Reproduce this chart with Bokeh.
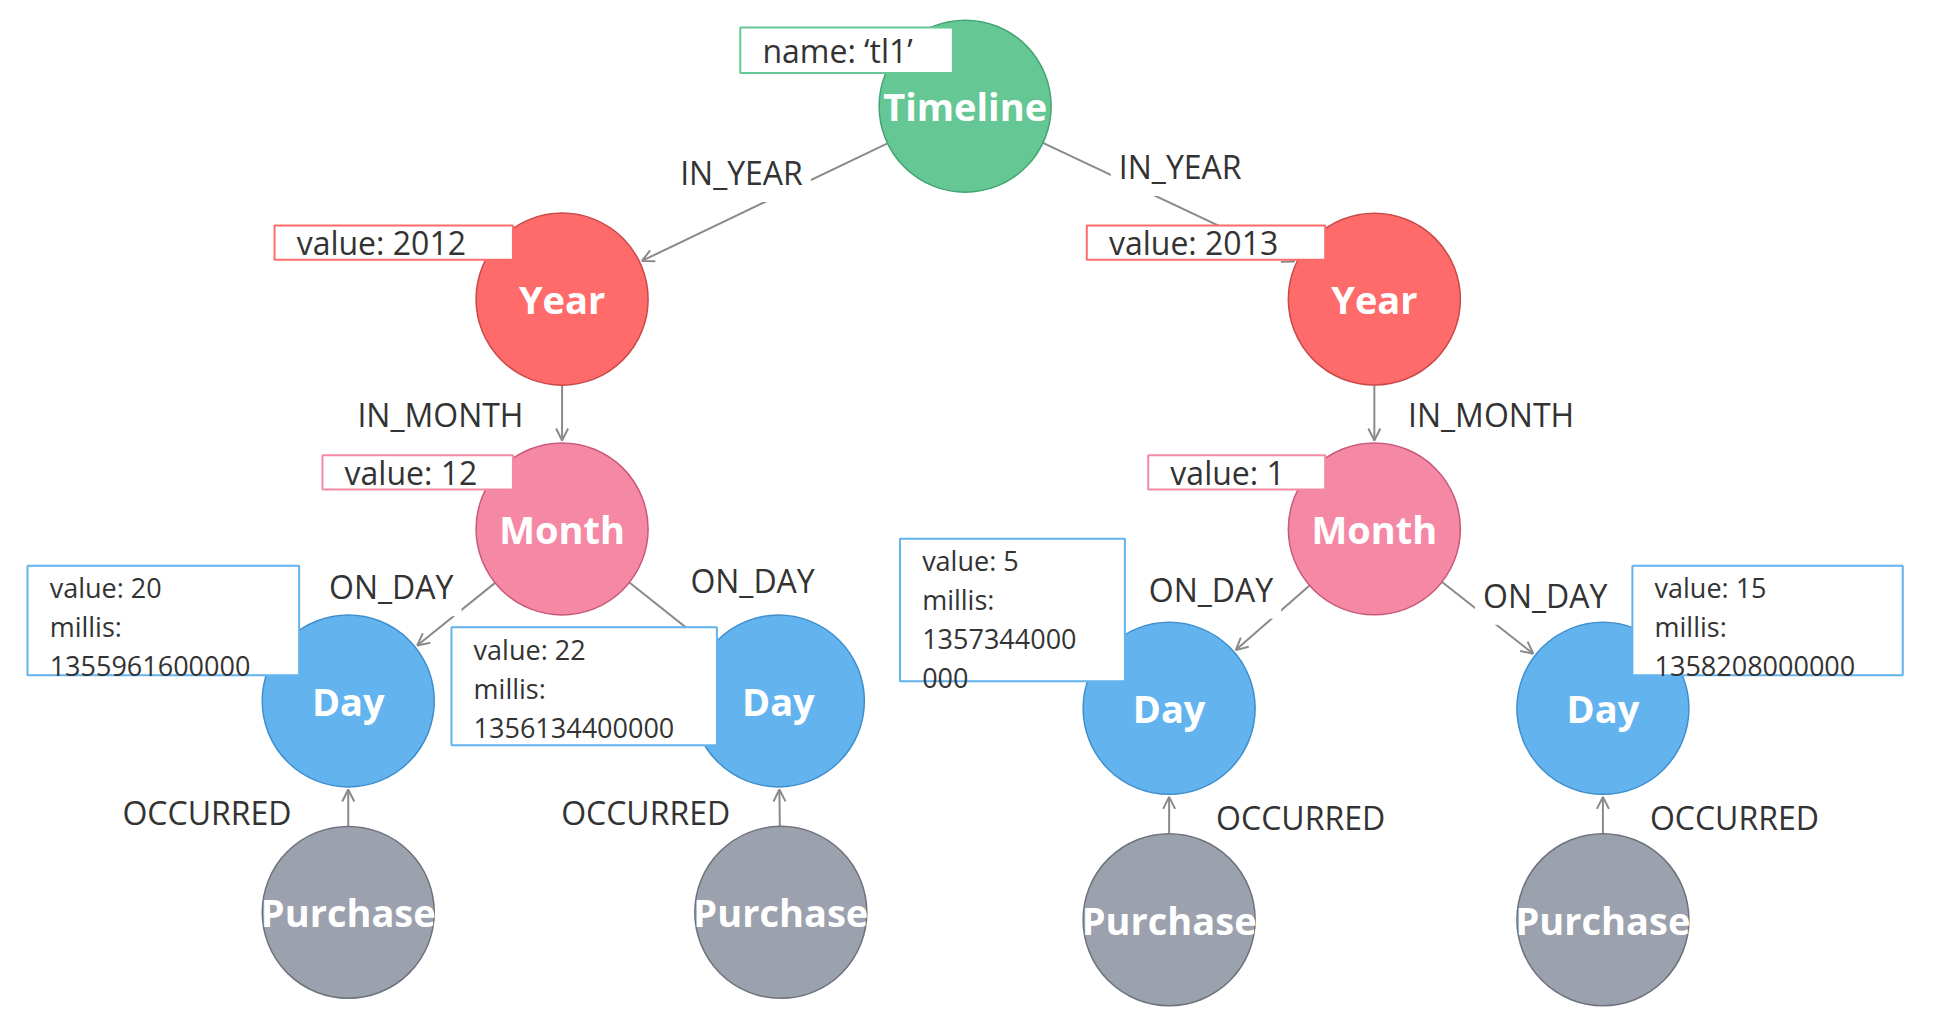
import numpy as np
from bokeh.plotting import figure
from bokeh.models import Range1d, Arrow, OpenHead, ColumnDataSource
from bokeh.core.properties import value
from bokeh.embed import file_html
from bokeh.resources import INLINE

# nodes
node_names = ["Timeline", "Year", "Year", "Month", "Month", "Day", "Day", "Day", "Day",
              "Purchase", "Purchase", "Purchase", "Purchase"]
node_x = [785, 457, 1118, 457, 1118, 283, 633, 951, 1304, 283, 635, 951, 1304]
node_y = [86, 243, 243, 430, 430, 570, 570, 576, 576, 742, 742, 748, 748]
node_colors = {"Timeline": ("#64c794", "#44a574"), "Year": ("#ff6b6b", "#c94848"),
               "Month": ("#f589a5", "#c8597a"), "Day": ("#63b3ef", "#3f8fcd"),
               "Purchase": ("#9ba1ad", "#6d727c")}
R = 70

# edges: source, target, label, label position
edge_src = [0, 0, 1, 2, 3, 3, 4, 4, 9, 10, 11, 12]
edge_dst = [1, 2, 3, 4, 5, 6, 7, 8, 5, 6, 7, 8]
edge_labels = ["IN_YEAR", "IN_YEAR", "IN_MONTH", "IN_MONTH", "ON_DAY", "ON_DAY", "ON_DAY", "ON_DAY",
               "OCCURRED", "OCCURRED", "OCCURRED", "OCCURRED"]
label_x = [603, 960, 358, 1213, 318, 612, 985, 1257, 168, 525, 1058, 1411]
label_y = [140, 135, 337, 337, 477, 472, 479, 484, 661, 661, 665, 665]

# property boxes
box_left = [602, 223, 884, 262, 934, 22, 367, 732, 1328]
box_right = [775, 417, 1078, 417, 1078, 243, 583, 915, 1548]
box_top = [22, 183, 183, 370, 370, 460, 510, 438, 460]
box_bottom = [59, 211, 211, 398, 398, 549, 606, 554, 549]
box_text = ["name: \u2018tl1\u2019", "value: 2012", "value: 2013", "value: 12", "value: 1",
            "value: 20\nmillis:\n1355961600000", "value: 22\nmillis:\n1356134400000",
            "value: 5\nmillis:\n1357344000\n000", "value: 15\nmillis:\n1358208000000"]
box_colors = ["#64c794", "#ff6b6b", "#ff6b6b", "#f589a5", "#f589a5",
              "#63b3ef", "#63b3ef", "#63b3ef", "#63b3ef"]

W, H = 1560, 830
p = figure(width=1917, height=1020, output_backend="svg", toolbar_location=None,
           x_range=Range1d(0, W), y_range=Range1d(H, 0), min_border=0)
p.axis.visible = False
p.grid.visible = False
p.outline_line_color = None

# edges
for s, d in zip(edge_src, edge_dst):
    x0, y0, x1, y1 = node_x[s], node_y[s], node_x[d], node_y[d]
    dx, dy = x1 - x0, y1 - y0
    L = np.hypot(dx, dy)
    ux, uy = dx / L, dy / L
    p.add_layout(Arrow(x_start=x0 + ux * R, y_start=y0 + uy * R,
                       x_end=x1 - ux * (R + 2), y_end=y1 - uy * (R + 2),
                       line_color="#8a8a8a", line_width=2, level="underlay",
                       end=OpenHead(size=12, line_color="#8a8a8a", line_width=2)))

p.text(label_x, label_y, text=edge_labels, text_font=value("Open Sans"), text_font_size="32px",
       text_color="#333333", text_align="center", text_baseline="middle",
       background_fill_color="white", padding=8)

# nodes
fills = [node_colors[n][0] for n in node_names]
lines = [node_colors[n][1] for n in node_names]
p.circle(node_x, node_y, radius=R, fill_color=fills, line_color=lines, line_width=1.5)
p.text(node_x, node_y, text=node_names, text_font=value("Open Sans"), text_font_style="bold",
       text_font_size="38px", text_color="white", text_align="center", text_baseline="middle")

# property boxes
p.quad(left=box_left, right=box_right, top=box_top, bottom=box_bottom,
       fill_color="white", line_color=box_colors, line_width=2)
multi = ["\n" in s for s in box_text]
src = ColumnDataSource(dict(x=[l + 18 for l in box_left],
                            y=[t + 3 if m else (t + b) / 2 for t, b, m in zip(box_top, box_bottom, multi)],
                            t=box_text,
                            base=["top" if m else "middle" for m in multi],
                            size=["27px" if m else "32px" for m in multi]))
p.text("x", "y", text="t", source=src, text_font=value("Open Sans"), text_font_size="size",
       text_color="#333333", text_align="left", text_baseline="base", text_line_height=1.05)

open("out.html", "w").write(file_html(p, INLINE))
